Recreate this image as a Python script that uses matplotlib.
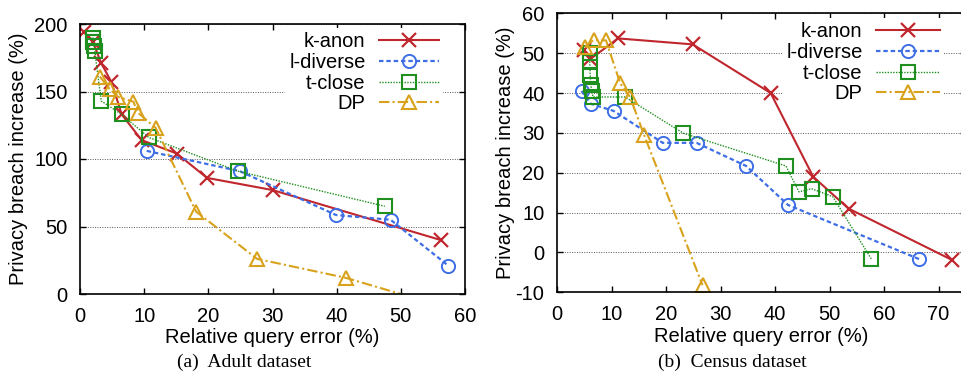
import matplotlib
matplotlib.use("Agg")
import matplotlib.pyplot as plt

plt.rcParams["font.family"] = ["Liberation Sans", "DejaVu Sans"]
plt.rcParams["axes.unicode_minus"] = False

# ---- Adult dataset (left) ----
adult_kanon_x = [0.6, 2.0, 3.3, 4.9, 6.5, 9.6, 15.1, 19.8, 30.0, 56.2]
adult_kanon_y = [194, 187, 171, 157, 133, 114, 104, 86, 77, 40]
adult_ldiv_x = [10.4, 24.9, 39.9, 48.4, 57.4]
adult_ldiv_y = [106, 91, 58.5, 55, 21]
adult_tclose_x = [2.0, 2.1, 2.2, 2.3, 3.3, 6.5, 10.7, 24.6, 47.5]
adult_tclose_y = [190, 187, 184, 180, 143, 133, 116, 91, 65]
adult_dp_x = [3.1, 4.6, 5.9, 8.3, 9.1, 11.8, 18.1, 27.6, 41.4, 55.0]
adult_dp_y = [161, 152, 146, 142.5, 134, 123, 61, 26, 12, -7]

# ---- Census dataset (right) ----
census_kanon_x = [5.0, 6.1, 11.2, 24.9, 39.2, 47.0, 53.5, 72.5]
census_kanon_y = [50.7, 48.5, 53.7, 52.2, 40.0, 19.0, 11.0, -1.9]
census_ldiv_x = [4.5, 6.2, 10.4, 19.4, 25.6, 34.7, 42.4, 66.5]
census_ldiv_y = [40.5, 37.3, 35.5, 27.5, 27.5, 21.7, 11.9, -1.7]
census_tclose_x = [6.0, 6.0, 6.1, 6.2, 6.4, 6.6, 12.5, 23.2, 42.0, 44.4, 46.7, 50.6, 57.7]
census_tclose_y = [50.0, 47.8, 44.5, 42.0, 40.5, 39.0, 39.0, 29.9, 21.7, 15.2, 16.0, 14.0, -1.7]
census_dp_x = [5.1, 6.7, 9.0, 11.6, 13.4, 16.0, 26.7]
census_dp_y = [51.6, 53.3, 53.2, 42.4, 39.0, 29.4, -8.2]

labels = ["k-anon", "l-diverse", "t-close", "DP"]

red = "#c0262d"
blue = "#3d6ee6"
green = "#1f8f1f"
gold = "#d9a21c"

styles = [
    dict(color=red, ls="-", lw=1.5, marker="x", ms=9.5, mew=1.6),
    dict(color=blue, ls=(0, (2, 1.3)), lw=1.6, marker="o", ms=9.5, mew=1.4, mfc="none"),
    dict(color=green, ls=(0, (1, 1)), lw=1.0, marker="s", ms=9.5, mew=1.5, mfc="none"),
    dict(color=gold, ls=(0, (5, 1.5, 1, 1.5)), lw=1.5, marker="^", ms=9.5, mew=1.5, mfc="none"),
]

fs = 14.5
W, H = 961, 386
fig = plt.figure(figsize=(W / 100, H / 100), dpi=100)

ax1 = fig.add_axes([80 / W, 1 - 294 / H, 385 / W, 270 / H])
ax2 = fig.add_axes([557 / W, 1 - 292.3 / H, 408.75 / W, 279 / H])

series1 = [(adult_kanon_x, adult_kanon_y), (adult_ldiv_x, adult_ldiv_y),
           (adult_tclose_x, adult_tclose_y), (adult_dp_x, adult_dp_y)]
series2 = [(census_kanon_x, census_kanon_y), (census_ldiv_x, census_ldiv_y),
           (census_tclose_x, census_tclose_y), (census_dp_x, census_dp_y)]

for ax, series in [(ax1, series1), (ax2, series2)]:
    for (x, y), st, lab in zip(series, styles, labels):
        ax.plot(x, y, label=lab, **st)

ax1.set_xlim(0, 60)
ax1.set_ylim(0, 200)
ax1.set_xticks(range(0, 61, 10))
ax1.set_yticks(range(0, 201, 50))

ax2.set_xlim(0, 75)
ax2.set_ylim(-10, 60)
ax2.set_xticks(range(0, 71, 10))
ax2.set_yticks(range(-10, 61, 10))

legend_anchor = {ax1: (0.943, 0.984), ax2: (0.947, 0.982)}
handle_len = {ax1: 3.0, ax2: 3.2}

for ax in (ax1, ax2):
    ax.grid(axis="y", color="#555555", ls=(0, (1, 1.5)), lw=0.7)
    ax.set_axisbelow(True)
    ax.tick_params(direction="in", length=4, width=1, top=True, right=True,
                   labelsize=fs, pad=9)
    for s in ax.spines.values():
        s.set_linewidth(1.2)
    ax.set_xlabel("Relative query error (%)", fontsize=fs)
    ax.set_ylabel("Privacy breach increase (%)", fontsize=fs)
    leg = ax.legend(loc="upper right", bbox_to_anchor=legend_anchor[ax],
                    markerfirst=False, fontsize=fs,
                    handlelength=handle_len[ax], handletextpad=0.65, labelspacing=0.08,
                    borderpad=0.2, borderaxespad=0, frameon=True, framealpha=1,
                    facecolor="white", edgecolor="none", fancybox=False)
    for col in leg._legend_handle_box.get_children():
        col.align = "right"

ax1.xaxis.set_label_coords(0.5, -0.126)
ax1.yaxis.set_label_coords(-0.135, 0.5)
ax2.xaxis.set_label_coords(0.5, -0.123)
ax2.yaxis.set_label_coords(-0.103, 0.5)

fig.text(244 / W, 1 - 367 / H, "(a)  Adult dataset", ha="center", va="baseline",
         fontsize=14, family="Liberation Serif")
fig.text(732 / W, 1 - 367 / H, "(b)  Census dataset", ha="center", va="baseline",
         fontsize=14, family="Liberation Serif")

fig.savefig("out.png", dpi=100)
